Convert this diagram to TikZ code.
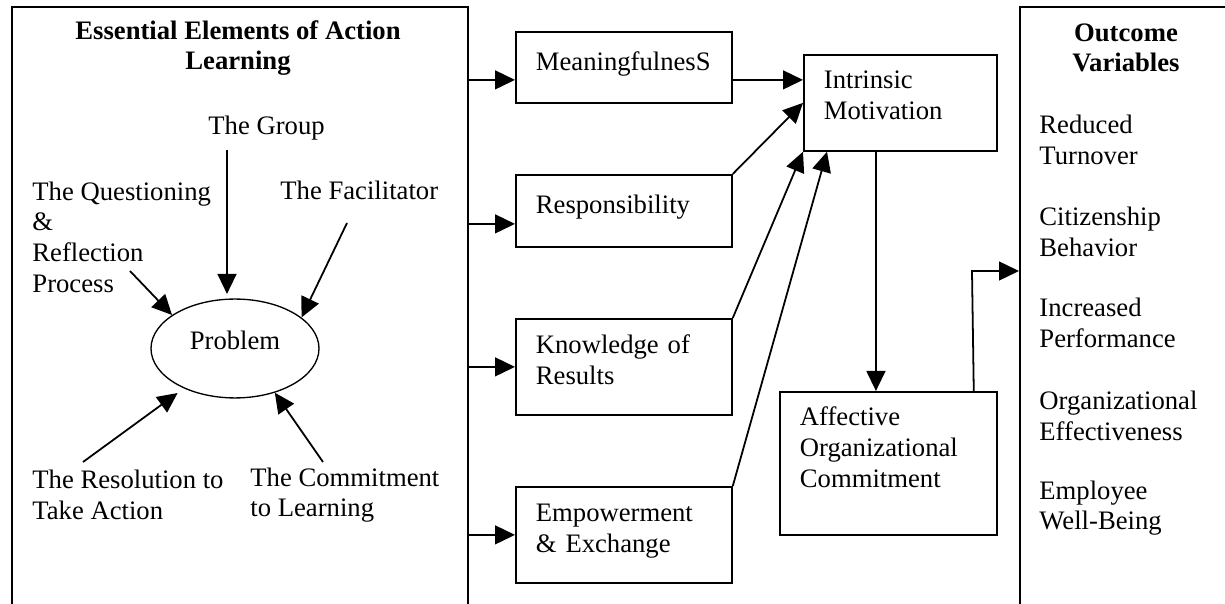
\documentclass[tikz,border=0pt]{standalone}
\usepackage{fontspec}
\setmainfont{Liberation Serif}
\usetikzlibrary{arrows.meta,shapes.geometric}
\begin{document}
\begin{tikzpicture}[x=0.45pt,y=-0.45pt,font=\fontsize{12}{13.8}\selectfont]
	\tikzset{
		arr/.style={line width=0.8pt,-{Triangle[length=9pt,width=8.5pt]}},
		frame/.style={draw,line width=0.8pt,anchor=north west,minimum height=320pt,inner sep=0pt},
		box/.style={draw,line width=0.8pt,anchor=north west,align=left,inner xsep=9pt,inner ysep=0pt},
		txt/.style={anchor=west,align=left,inner sep=0pt},
		head/.style={font=\fontsize{12}{13.8}\selectfont\bfseries,align=center,inner sep=0pt},
	}
	\useasboundingbox (0,0) rectangle (1225,604);
	\clip (0,0) rectangle (1225,604);
	\node[frame,minimum width=205.2pt] (elem) at (11,6) {};
	\node[frame,minimum width=120pt] (outc) at (1019,6) {};
	\node[head] (t1) at (238,48) {Essential Elements of Action\\Learning};
	\node[head] (t2) at (1126,48) {Outcome\\Variables};
	\node[txt] (grp) at (208,128) {The Group};
	\node[txt] (fac) at (280,190) {The Facilitator};
	\node[txt] (que) at (32,237) {The Questioning\\\&\\Reflection\\Process};
	\node[txt] (res) at (32,495) {The Resolution to\\Take Action};
	\node[txt] (com) at (250,495) {The Commitment\\to Learning};
	\node[draw,ellipse,line width=0.6pt,minimum width=75.6pt,minimum height=44.5pt,inner sep=0pt,text depth=7pt] (prob) at (235,348.5) {Problem};
	\node[txt] (o1) at (1039,140) {Reduced\\Turnover};
	\node[txt] (o2) at (1039,232) {Citizenship\\Behavior};
	\node[txt] (o3) at (1039,323) {Increased\\Performance};
	\node[txt] (o4) at (1039,416) {Organizational\\Effectiveness};
	\node[txt] (o5) at (1039,508) {Employee\\Well-Being};
	\node[box,text width=79.2pt,text height=17.5pt,text depth=14.5pt] (mean) at (515,31) {MeaningfulnesS};
	\node[box,text width=79.2pt,text height=17.5pt,text depth=14.9pt] (resp) at (515,174) {Responsibility};
	\node[box,text width=79.2pt,text height=15.8pt,text depth=27.4pt] (know) at (515,318) {Knowledge of\\Results};
	\node[box,text width=79.2pt,text height=15.8pt,text depth=27.4pt] (emp) at (515,486) {Empowerment\\\& Exchange};
	\node[box,text width=68.85pt,text height=15.3pt,text depth=27.9pt] (intr) at (803,54) {Intrinsic\\Motivation};
	\node[box,text width=79.65pt,text height=15.3pt,text depth=49.05pt] (aff) at (779,391) {Affective\\Organizational\\Commitment};
	\coordinate (a1) at ([yshift=-5.6pt]mean.west);
	\coordinate (a2) at ([yshift=-5.85pt]resp.west);
	\draw[arr] (a1 -| elem.east) -- (a1);
	\draw[arr] (a2 -| elem.east) -- (a2);
	\draw[arr] (elem.east |- know.west) -- (know.west);
	\draw[arr] (elem.east |- emp.west) -- (emp.west);
	\draw[arr] (mean.east |- a1) -- (a1 -| intr.west);
	\draw[arr] (resp.north east) -- (intr.west);
	\draw[arr] (know.north east) -- (intr.south west);
	\draw[arr] (emp.north east) -- ([xshift=10.8pt]intr.south west);
	\coordinate (c1) at ([xshift=-11pt]intr.south);
	\draw[arr] (c1) -- (c1 |- aff.north);
	\coordinate (c2) at ([xshift=-10.8pt]aff.north east);
	\coordinate (c3) at (972,271);
	\draw[arr] (c2) -- (c3) -- (c3 -| outc.west);
	\coordinate (gt) at (227,150);
	\coordinate (ft) at (347,223);
	\coordinate (qt) at (130,271);
	\coordinate (rt) at (83,462);
	\coordinate (ct) at (323,462);
	\draw[arr,shorten >=2pt] (gt) -- (gt |- prob.north);
	\draw[arr] (ft) -- (prob.25);
	\draw[arr] (qt) -- (prob.152);
	\draw[arr,shorten >=3.5pt] (rt) -- (prob.218);
	\draw[arr] (ct) -- (prob.-48);
\end{tikzpicture}
\end{document}
